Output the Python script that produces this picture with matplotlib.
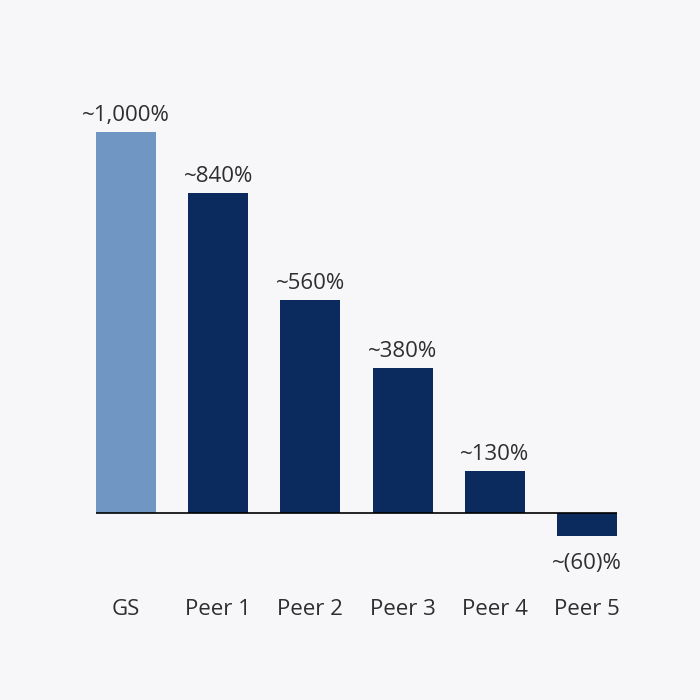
import matplotlib
matplotlib.use("Agg")
import matplotlib.pyplot as plt

# ---------------- data ----------------
categories = ["GS", "Peer 1", "Peer 2", "Peer 3", "Peer 4", "Peer 5"]
values = [1000, 840, 560, 380, 110, -60]   # bar heights as drawn
value_labels = ["~1,000%", "~840%", "~560%", "~380%", "~130%", "~(60)%"]

# ---------------- style ----------------
BG = "#f7f7fa"
GS_COLOR = "#7097c3"
PEER_COLOR = "#0b2b5e"
TEXT = "#2e2e2e"
BAR_W = 0.652
FS = 16

plt.rcParams["font.family"] = ["Open Sans", "DejaVu Sans"]

fig = plt.figure(figsize=(7, 7), dpi=100, facecolor=BG)
# axes placed so that bars line up with the reference pixel layout
ax = fig.add_axes([96 / 700, 110.8 / 700, 521 / 700, 514.2 / 700])
ax.set_facecolor(BG)

x = list(range(len(categories)))
colors = [GS_COLOR] + [PEER_COLOR] * (len(categories) - 1)
ax.bar(x, values, width=BAR_W, color=colors, zorder=2)

ax.set_xlim(-BAR_W / 2, len(categories) - 1 + BAR_W / 2)
ax.set_ylim(-200, 1150)
ax.axhline(0, color="black", linewidth=1.2, zorder=3)

for xi, v, lab in zip(x, values, value_labels):
    if v >= 0:
        ax.annotate(lab, (xi, v), xytext=(0, 11), textcoords="offset pixels",
                    ha="center", va="baseline", fontsize=FS, color=TEXT)
    else:
        ax.annotate(lab, (xi, v), xytext=(0, -17), textcoords="offset pixels",
                    ha="center", va="top", fontsize=FS, color=TEXT)

for xi, cat in zip(x, categories):
    ax.annotate(cat, (xi, 0), xytext=(0, -102), textcoords="offset pixels",
                ha="center", va="baseline", fontsize=FS, color=TEXT,
                annotation_clip=False)

ax.axis("off")
fig.savefig("out.png", dpi=100, facecolor=BG)
